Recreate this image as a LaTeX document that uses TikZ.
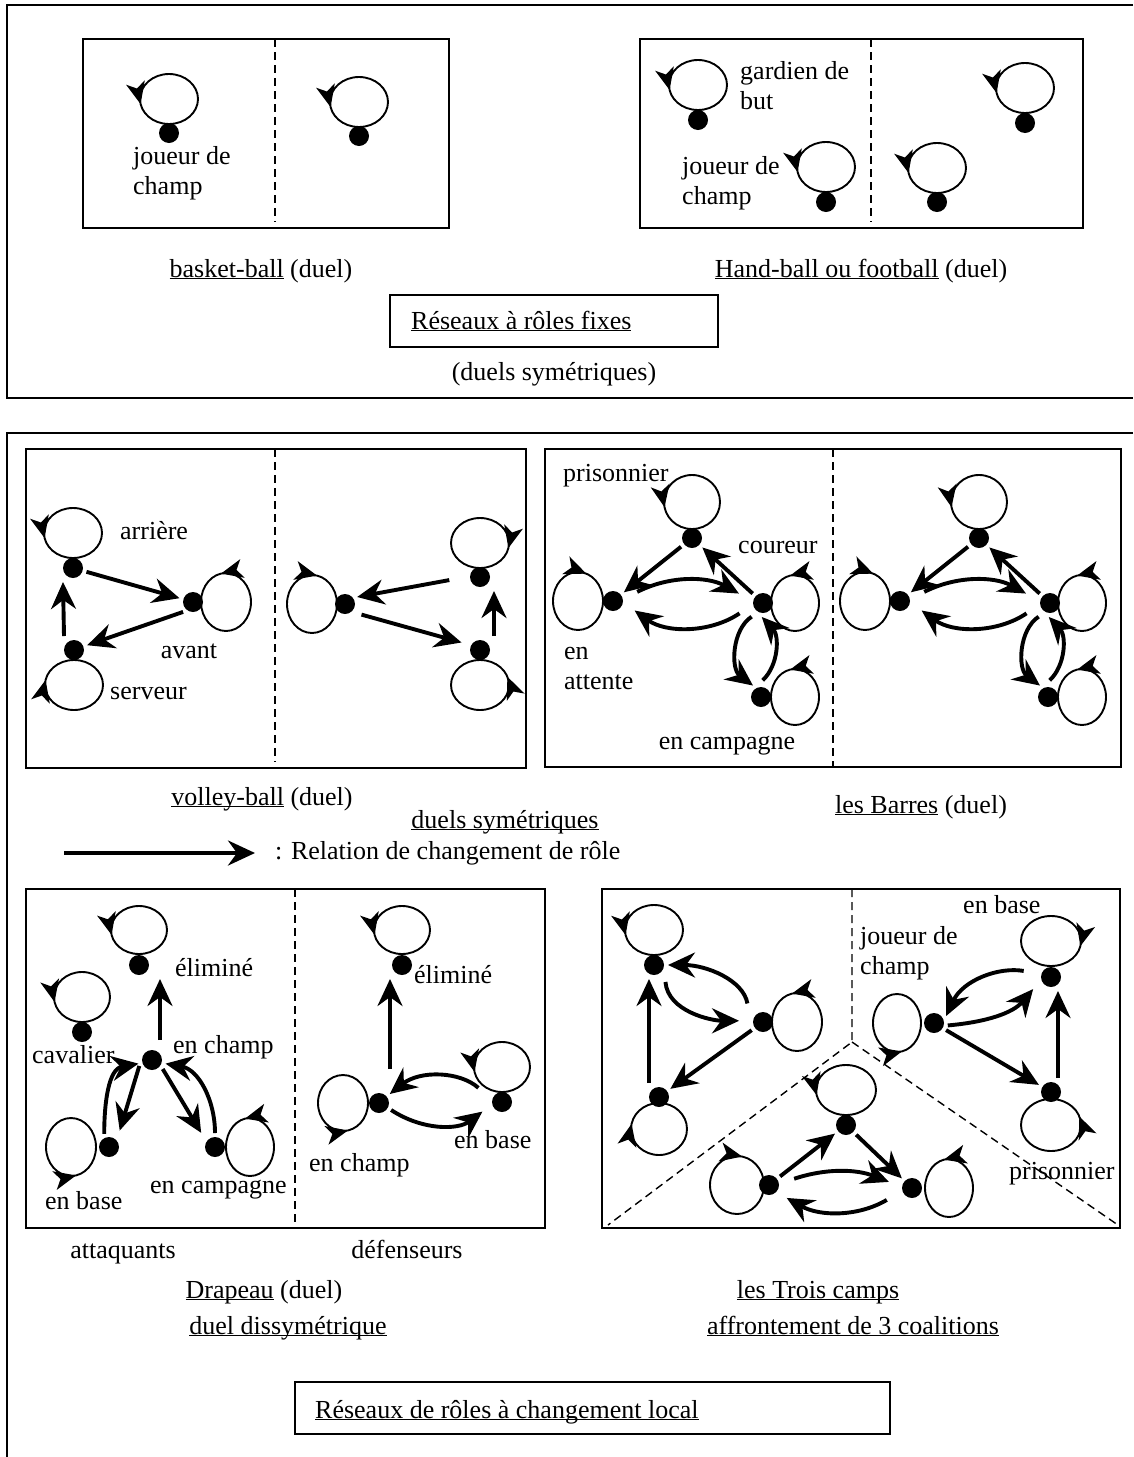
\documentclass[tikz,border=0pt]{standalone}
\usepackage{fontspec}
\setmainfont{Liberation Serif}
\usetikzlibrary{arrows.meta,decorations.markings}

\newcommand{\souligne}[1]{\underline{\smash{#1}}}

\tikzset{
  dot/.style={circle, fill=black, inner sep=0pt, minimum size=20pt, outer sep=4pt},
  ring/.style={line width=1.9pt},
  ccw/.style={ring, postaction={decorate, decoration={markings,
      mark=at position #1 with {\arrow{Stealth[length=22pt,width=19pt,inset=6pt]}}}}},
  cw/.style={ring, postaction={decorate, decoration={markings,
      mark=at position #1 with {\arrowreversed{Stealth[length=22pt,width=19pt,inset=6pt]}}}}},
  rel/.style={line width=3.9pt, -{Stealth[length=27pt,width=25pt,inset=9pt]}},
  txt/.style={font=\fontsize{26}{30}\selectfont, inner sep=0pt, align=left},
  divider/.style={line width=1.4pt, dash pattern=on 8pt off 5pt},
  frame/.style={line width=1.9pt},
}

\begin{document}
\begin{tikzpicture}[x=1pt,y=-1pt]
\useasboundingbox (0,0) rectangle (1133,1457);

% outer frames
\draw[frame] (1133,5) -- (7,5) -- (7,398) -- (1133,398);
\draw[frame] (1133,433) -- (7,433) -- (7,1457);

% basket-ball
\draw[frame] (83,39) rectangle (449,228);
\draw[divider] (275,39) -- (275,222);
\node[dot] (bL) at (169,133) {};
\node[dot] (bR) at (359,136) {};
\draw[ccw=0.53] ([yshift=34pt]bL.center) ellipse [x radius=29pt, y radius=25pt];
\draw[ccw=0.53] ([yshift=34pt]bR.center) ellipse [x radius=29pt, y radius=25pt];
\node[txt, anchor=base west] (bLab) at (133,194) {joueur de\\champ};
\node[txt, anchor=base] (bName) at (261,277) {\souligne{basket-ball} (duel)};

% hand-ball
\draw[frame] (640,39) rectangle (1083,228);
\draw[divider] (871,39) -- (871,222);
\node[dot] (hGl) at (698,120) {};
\node[dot] (hJl) at (826,202) {};
\node[dot] (hGr) at (1025,123) {};
\node[dot] (hJr) at (937,202) {};
\draw[ccw=0.53] ([yshift=35pt]hGl.center) ellipse [x radius=29pt, y radius=25pt];
\draw[ccw=0.53] ([yshift=35pt]hJl.center) ellipse [x radius=29pt, y radius=25pt];
\draw[ccw=0.53] ([yshift=35pt]hGr.center) ellipse [x radius=29pt, y radius=25pt];
\draw[ccw=0.53] ([yshift=34pt]hJr.center) ellipse [x radius=29pt, y radius=25pt];
\node[txt, anchor=base west] (hGlab) at (740,109) {gardien de\\but};
\node[txt, anchor=base west] (hJlab) at (682,204) {joueur de\\champ};
\node[txt, anchor=base] (hName) at (861,277) {\souligne{Hand-ball ou football} (duel)};

% Labels
\draw[frame] (390,295) rectangle (718,347);
\node[txt, anchor=base west] (fixe) at (411,329) {\souligne{Réseaux à rôles fixes}};
\node[txt, anchor=base] (fixeSub) at (554,380) {(duels symétriques)};

% volley-ball
\draw[frame] (26,449) rectangle (526,768);
\draw[divider] (275,449) -- (275,762);
\node[dot] (vAr) at (73,568) {};
\node[dot] (vAv) at (193,602) {};
\node[dot] (vSe) at (74,650) {};
\node[dot] (vCe) at (345,604) {};
\node[dot] (vTR) at (480,577) {};
\node[dot] (vBR) at (480,650) {};
\draw[ccw=0.53] ([yshift=35pt]vAr.center) ellipse [x radius=29pt, y radius=25pt];
\draw[ccw=0.28] ([xshift=33pt]vAv.center) ellipse [x radius=25pt, y radius=29pt];
\draw[cw=0.47] ([yshift=-35pt]vSe.center) ellipse [x radius=29pt, y radius=25pt];
\draw[cw=0.22] ([xshift=-33pt]vCe.center) ellipse [x radius=25pt, y radius=29pt];
\draw[cw=0.97] ([yshift=34pt]vTR.center) ellipse [x radius=29pt, y radius=25pt];
\draw[ccw=0.05] ([yshift=-35pt]vBR.center) ellipse [x radius=29pt, y radius=25pt];
\draw[rel] (vAr) -- (vAv);
\draw[rel] (vAv.225) -- (vSe.20);
\draw[rel] ([xshift=-10pt]vSe.north) -- ([xshift=-10pt]vAr.south);
\draw[rel, shorten <=17pt] (vTR.west) -- (vCe.30);
\draw[rel, shorten <=6pt, shorten >=6pt] (vCe.-40) -- (vBR.155);
\draw[rel] ([xshift=14pt]vBR.north) -- ([xshift=14pt]vTR.south);
\node[txt, anchor=base west] (vArLab) at (120,539) {arrière};
\node[txt, anchor=base] (vAvLab) at (189,658) {avant};
\node[txt, anchor=base west] (vSeLab) at (110,699) {serveur};
\node[txt, anchor=base] (vName) at (262,805) {\souligne{volley-ball} (duel)};

% les Barres
\draw[frame] (545,449) rectangle (1121,767);
\draw[divider] (833,449) -- (833,767);
\foreach \s/\h in {0/l,287/r}{
  \node[dot] (pri\h) at (692+\s,538) {};
  \node[dot] (cou\h) at (763+\s,603) {};
  \node[dot] (att\h) at (613+\s,601) {};
  \node[dot] (cam\h) at (761+\s,697) {};
  \draw[ccw=0.53] ([yshift=36pt]pri\h.center) ellipse [x radius=28pt, y radius=27pt];
  \draw[ccw=0.28] ([xshift=32pt]cou\h.center) ellipse [x radius=24pt, y radius=28pt];
  \draw[cw=0.2] ([xshift=-35pt]att\h.center) ellipse [x radius=25pt, y radius=29pt];
  \draw[ccw=0.28] ([xshift=34pt]cam\h.center) ellipse [x radius=24pt, y radius=28pt];
  \draw[rel] (pri\h) -- (att\h);
  \draw[rel] (cou\h) -- (pri\h);
  \draw[rel, shorten <=12pt, shorten >=12pt] (att\h.15) to[bend left=28] (cou\h.165);
  \draw[rel, shorten <=12pt, shorten >=10pt] (cou\h.195) to[bend left=35] (att\h.-15);
  \draw[rel, shorten <=4pt] (cou\h.235) to[bend right=55] (cam\h.125);
  \draw[rel, shorten <=4pt] (cam\h.95) to[bend right=45] (cou\h.265);
}
\node[txt, anchor=base west] (priLab) at (563,481) {prisonnier};
\node[txt, anchor=base west] (couLab) at (738,553) {coureur};
\node[txt, anchor=base west] (attLab) at (564,689) {en\\attente};
\node[txt, anchor=base] (camLab) at (727,749) {en campagne};
\node[txt, anchor=base] (baName) at (921,813) {\souligne{les Barres} (duel)};

% legend
\node[txt, anchor=base] (sym) at (505,828) {\souligne{duels symétriques}};
\coordinate (legA) at (64,853);
\coordinate (legB) at (255,853);
\draw[rel] (legA) -- (legB);
\node[txt, anchor=base west] (legend) at (275,859) {: Relation de changement de rôle};

% Drapeau
\draw[frame] (26,889) rectangle (545,1228);
\draw[divider] (295,889) -- (295,1228);
\node[dot] (dEl) at (139,965) {};
\node[dot] (dCa) at (82,1032) {};
\node[dot] (dCh) at (152,1060) {};
\node[dot] (dBa) at (109,1147) {};
\node[dot] (dCp) at (215,1147) {};
\node[dot] (eEl) at (402,965) {};
\node[dot] (eCh) at (379,1103) {};
\node[dot] (eBa) at (502,1102) {};
\draw[ccw=0.53] ([yshift=35pt]dEl.center) ellipse [x radius=28pt, y radius=24pt];
\draw[ccw=0.53] ([yshift=35pt]dCa.center) ellipse [x radius=28pt, y radius=25pt];
\draw[ccw=0.78] ([xshift=-38pt]dBa.center) ellipse [x radius=25pt, y radius=29pt];
\draw[ccw=0.28] ([xshift=35pt]dCp.center) ellipse [x radius=24pt, y radius=29pt];
\draw[ccw=0.53] ([yshift=35pt]eEl.center) ellipse [x radius=28pt, y radius=24pt];
\draw[ccw=0.78] ([xshift=-36pt]eCh.center) ellipse [x radius=25pt, y radius=28pt];
\draw[ccw=0.53] ([yshift=35pt]eBa.center) ellipse [x radius=28pt, y radius=25pt];
\draw[rel, shorten <=6pt] ([xshift=8pt]dCh.north) -- ([xshift=21pt]dEl.south);
\draw[rel] (dBa.110) to[out=90, in=190] (dCh.195);
\draw[rel, shorten >=6pt] (dCh.205) -- (dBa.50);
\draw[rel, shorten >=6pt] (dCh.-40) -- (dCp.140);
\draw[rel] (dCp.90) to[out=90, in=-10] (dCh.-15);
\draw[rel, shorten <=20pt] ([xshift=11pt]eCh.north) -- ([xshift=-12pt]eEl.south);
\draw[rel, shorten <=14pt] (eBa.160) to[bend right=40] (eCh.40);
\draw[rel, shorten >=8pt] (eCh.-30) to[bend right=35] (eBa.200);
\node[txt, anchor=base west] (dElLab) at (175,976) {éliminé};
\node[txt, anchor=base west] (dCaLab) at (32,1063) {cavalier};
\node[txt, anchor=base west] (dChLab) at (173,1053) {en champ};
\node[txt, anchor=base west] (dBaLab) at (45,1209) {en base};
\node[txt, anchor=base west] (dCpLab) at (150,1193) {en campagne};
\node[txt, anchor=base west] (eElLab) at (414,983) {éliminé};
\node[txt, anchor=base west] (eChLab) at (309,1171) {en champ};
\node[txt, anchor=base west] (eBaLab) at (454,1148) {en base};
\node[txt, anchor=base] (attq) at (123,1258) {attaquants};
\node[txt, anchor=base] (defs) at (407,1258) {défenseurs};
\node[txt, anchor=base] (drName) at (264,1298) {\souligne{Drapeau} (duel)};
\node[txt, anchor=base] (drSub) at (288,1334) {\souligne{duel dissymétrique}};

% les Trois camps
\draw[frame] (602,889) rectangle (1120,1228);
\draw[divider] (852,889) -- (852,1042) -- (608,1225);
\draw[divider] (852,1042) -- (1118,1225);
\node[dot] (tA) at (654,965) {};
\node[dot] (tB) at (763,1022) {};
\node[dot] (tC) at (659,1097) {};
\node[dot] (tD) at (1051,977) {};
\node[dot] (tE) at (934,1023) {};
\node[dot] (tF) at (1051,1092) {};
\node[dot] (tG) at (846,1125) {};
\node[dot] (tH) at (769,1185) {};
\node[dot] (tI) at (912,1188) {};
\draw[ccw=0.53] ([yshift=35pt]tA.center) ellipse [x radius=29pt, y radius=25pt];
\draw[ccw=0.28] ([xshift=34pt]tB.center) ellipse [x radius=25pt, y radius=29pt];
\draw[cw=0.47] ([yshift=-32pt]tC.center) ellipse [x radius=28pt, y radius=26pt];
\draw[cw=0.97] ([yshift=36pt]tD.center) ellipse [x radius=30pt, y radius=25pt];
\draw[ccw=0.78] ([xshift=-37pt]tE.center) ellipse [x radius=24pt, y radius=29pt];
\draw[ccw=0.05] ([yshift=-33pt]tF.center) ellipse [x radius=30pt, y radius=26pt];
\draw[ccw=0.53] ([yshift=35pt]tG.center) ellipse [x radius=30pt, y radius=25pt];
\draw[cw=0.22] ([xshift=-32pt]tH.center) ellipse [x radius=27pt, y radius=29pt];
\draw[ccw=0.28] ([xshift=37pt]tI.center) ellipse [x radius=24pt, y radius=29pt];
\draw[rel, shorten <=14pt] (tB.160) to[out=100, in=0] (tA.0);
\draw[rel, shorten <=8pt, shorten >=10pt] (tA.-40) to[out=-85, in=180] (tB.175);
\draw[rel] (tB) -- (tC);
\draw[rel] ([xshift=-10pt]tC.north) -- ([xshift=-5pt]tA.south);
\draw[rel, shorten <=14pt] (tD.165) to[out=170, in=65] (tE.30);
\draw[rel, shorten >=8pt] (tE.-10) to[out=5, in=230] (tD.205);
\draw[rel] (tE) -- (tF);
\draw[rel] ([xshift=7pt]tF.north) -- ([xshift=7pt]tD.south);
\draw[rel] (tH) -- (tG);
\draw[rel] (tG) -- (tI);
\draw[rel, shorten <=12pt, shorten >=10pt] (tH.10) to[bend left=20] (tI.170);
\draw[rel, shorten <=14pt, shorten >=8pt] (tI.200) to[bend left=30] (tH.-40);
\node[txt, anchor=base west] (tDLab) at (963,913) {en base};
\node[txt, anchor=base west] (tELab) at (860,974) {joueur de\\champ};
\node[txt, anchor=base west] (tFLab) at (1009,1179) {prisonnier};
\node[txt, anchor=base] (trName) at (818,1298) {\souligne{les Trois camps}};
\node[txt, anchor=base] (trSub) at (853,1334) {\souligne{affrontement de 3 coalitions}};

% bottom title
\draw[frame] (295,1382) rectangle (890,1434);
\node[txt, anchor=base west] (local) at (315,1418) {\souligne{Réseaux de rôles à changement local}};
\end{tikzpicture}
\end{document}
